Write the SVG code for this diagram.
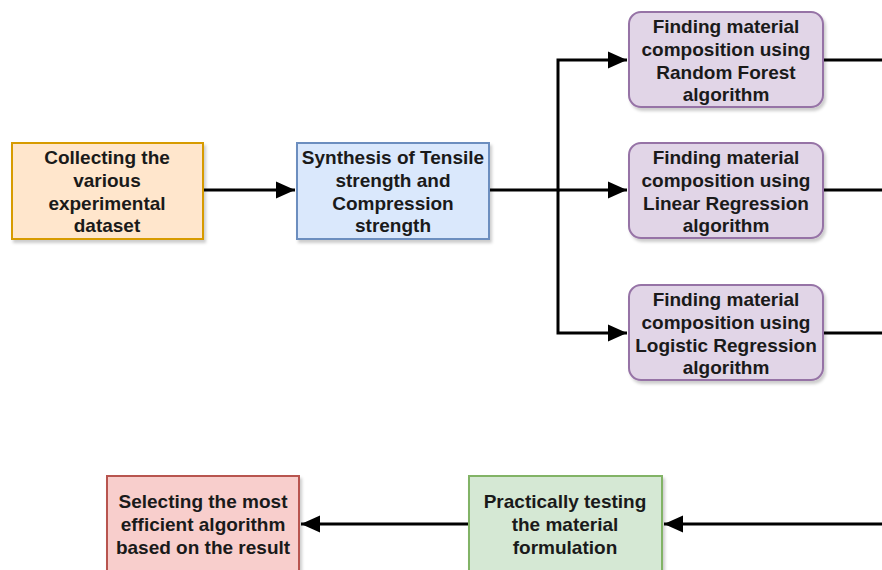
<svg xmlns="http://www.w3.org/2000/svg" width="882" height="570" viewBox="0 0 882 570">
<style>
.t{font-family:"Liberation Sans",Arial,sans-serif;font-size:19px;font-weight:bold;fill:#1a1a1a;text-anchor:middle}
.n{stroke-width:2;filter:url(#sh)}
.c{fill:none;stroke:#000;stroke-width:3}
</style>
<defs>
<filter id="sh" x="-10%" y="-10%" width="130%" height="130%">
<feDropShadow dx="2" dy="3" stdDeviation="1.5" flood-color="#000" flood-opacity="0.2"/>
</filter>
<marker id="b" viewBox="0 0 20 20" refX="19" refY="10" markerWidth="20" markerHeight="20" markerUnits="userSpaceOnUse" orient="auto">
<path d="M0,1.5 L19,10 L0,18.5 Z" fill="#000"/>
</marker>
</defs>
<g id="connectors">
<path class="c" d="M203,190 H295" marker-end="url(#b)"/>
<path class="c" d="M489,190 H558 V60 H627" marker-end="url(#b)"/>
<path class="c" d="M558,190 H627" marker-end="url(#b)"/>
<path class="c" d="M558,190 V333 H627" marker-end="url(#b)"/>
<path class="c" d="M823,60 H882"/>
<path class="c" d="M823,190 H882"/>
<path class="c" d="M823,333 H882"/>
<path class="c" d="M882,524 H664" marker-end="url(#b)"/>
<path class="c" d="M469,524 H301" marker-end="url(#b)"/>
</g>
<g id="collect">
<rect class="n" x="12" y="143" width="191" height="96" fill="#ffe6cc" stroke="#d79b00"/>
<text class="t" x="107" y="164">Collecting the</text>
<text class="t" x="107" y="187">various</text>
<text class="t" x="107" y="210">experimental</text>
<text class="t" x="107" y="232">dataset</text>
</g>
<g id="synthesis">
<rect class="n" x="297" y="143" width="192" height="96" fill="#dae8fc" stroke="#6c8ebf"/>
<text class="t" x="393" y="164">Synthesis of Tensile</text>
<text class="t" x="393" y="187">strength and</text>
<text class="t" x="393" y="210">Compression</text>
<text class="t" x="393" y="232">strength</text>
</g>
<g id="rf">
<rect class="n" x="629" y="12" width="194" height="95" rx="12" fill="#e1d5e7" stroke="#9673a6"/>
<text class="t" x="726" y="33">Finding material</text>
<text class="t" x="726" y="56">composition using</text>
<text class="t" x="726" y="79">Random Forest</text>
<text class="t" x="726" y="101">algorithm</text>
</g>
<g id="lr">
<rect class="n" x="629" y="143" width="194" height="95" rx="12" fill="#e1d5e7" stroke="#9673a6"/>
<text class="t" x="726" y="164">Finding material</text>
<text class="t" x="726" y="187">composition using</text>
<text class="t" x="726" y="210">Linear Regression</text>
<text class="t" x="726" y="232">algorithm</text>
</g>
<g id="logr">
<rect class="n" x="629" y="285" width="194" height="95" rx="12" fill="#e1d5e7" stroke="#9673a6"/>
<text class="t" x="726" y="306">Finding material</text>
<text class="t" x="726" y="329">composition using</text>
<text class="t" x="726" y="352">Logistic Regression</text>
<text class="t" x="726" y="374">algorithm</text>
</g>
<g id="testing">
<rect class="n" x="469" y="476" width="193" height="100" fill="#d5e8d4" stroke="#82b366"/>
<text class="t" x="565" y="508">Practically testing</text>
<text class="t" x="565" y="531">the material</text>
<text class="t" x="565" y="554">formulation</text>
</g>
<g id="select">
<rect class="n" x="107" y="476" width="192" height="100" fill="#f8cecc" stroke="#b85450"/>
<text class="t" x="203" y="508">Selecting the most</text>
<text class="t" x="203" y="531">efficient algorithm</text>
<text class="t" x="203" y="554">based on the result</text>
</g>
</svg>
